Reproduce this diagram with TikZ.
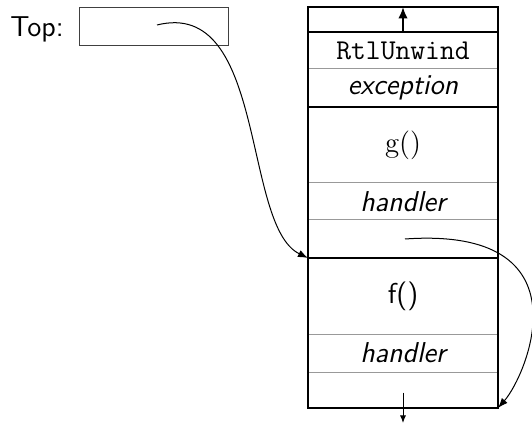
\documentclass[tikz,border=0pt]{standalone}
\usetikzlibrary{arrows.meta}
\begin{document}
\begin{tikzpicture}[x=0.4pt,y=-0.4pt,
  txt/.style={inner sep=0pt,font=\fontsize{11.5}{14}\selectfont},
  cellbox/.style={txt,minimum width=76pt,outer sep=0pt,anchor=north},
  thickrule/.style={line width=1pt,line cap=rect},
  thinrule/.style={line width=0.4pt,draw=black!40},
  link/.style={line width=0.4pt,-{Latex[length=4pt,width=3pt]}},
  bigtip/.style={line width=0.8pt,-{Latex[length=4.6pt,width=3.8pt]}},
  smalltip/.style={line width=0.4pt,-{Latex[length=3pt,width=2.4pt]}}]
\useasboundingbox (0,0) rectangle (532,424);

% the "Top:" pointer cell
\node[txt,anchor=base west] (toplabel) at (10,37) {\sffamily Top:};
\node[draw=black!75,line width=0.5pt,inner sep=0pt,minimum width=59.6pt,
      minimum height=15.2pt,anchor=north west] (topbox) at (79,7) {};

% the stack, one node per slot
\node[cellbox,minimum height=10pt] (c0) at (403,7) {};
\node[cellbox,minimum height=14.8pt] (c1) at (c0.south) {\ttfamily RtlUnwind};
\node[cellbox,minimum height=15.2pt] (c2) at (c1.south) {\sffamily\itshape exception};
\node[cellbox,minimum height=30.4pt] (c3) at (c2.south) {g()};
\node[cellbox,minimum height=14.8pt] (c4) at (c3.south) {\sffamily\itshape handler};
\node[cellbox,minimum height=15.2pt] (c5) at (c4.south) {};
\node[cellbox,minimum height=30.4pt] (c6) at (c5.south) {\sffamily f()};
\node[cellbox,minimum height=15.2pt] (c7) at (c6.south) {\sffamily\itshape handler};
\node[cellbox,minimum height=14.4pt] (c8) at (c7.south) {};

% thin separators inside a frame
\foreach \c in {c1,c3,c4,c6,c7}
  \draw[thinrule] (\c.south west) -- (\c.south east);
% frame borders
\foreach \c in {c0,c2,c5}
  \draw[thickrule] (\c.south west) -- (\c.south east);
\draw[thickrule] (c0.north west) rectangle (c8.south east);

% growth arrows
\draw[bigtip] (c0.south) -- (c0.north);
\coordinate (below) at (403,423);
\draw[smalltip] ([yshift=-1pt]c8.center) -- (below);

% pointer links
\coordinate (tp) at (157,25);
\draw[link] (tp) .. controls (267,-2.5) and (242,226) .. (c6.north west);
\coordinate (hp) at (405,239);
\draw[link] (hp) .. controls (590,226) and (527,375) .. (c8.south east);
\end{tikzpicture}
\end{document}
